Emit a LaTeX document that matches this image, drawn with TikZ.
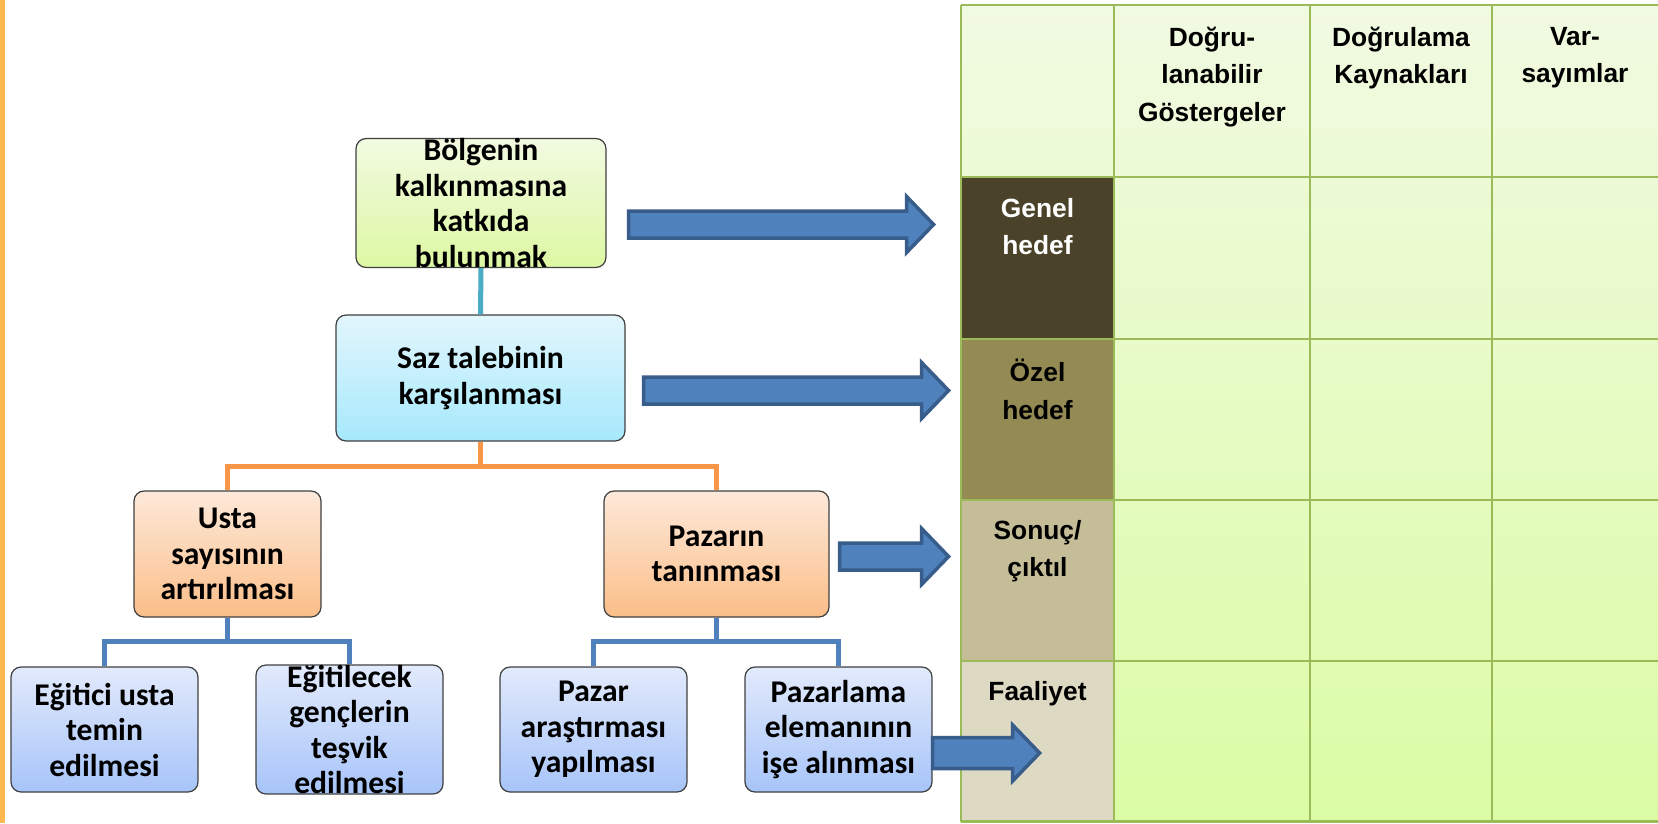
\documentclass[tikz,border=0pt]{standalone}
\usepackage{fontspec}
\setmainfont{Carlito}
\newfontfamily\tabfont{Liberation Sans}
\usetikzlibrary{calc}

\definecolor{stripcol}{RGB}{255,184,79}
\definecolor{gridgreen}{RGB}{155,187,89}
\definecolor{celltop}{RGB}{241,250,226}
\definecolor{cellbot}{RGB}{219,252,165}
\definecolor{genelcol}{RGB}{74,67,42}
\definecolor{ozelcol}{RGB}{148,138,84}
\definecolor{sonuccol}{RGB}{196,189,151}
\definecolor{faalcol}{RGB}{221,217,195}
\definecolor{greentop}{RGB}{242,250,225}
\definecolor{greenbot}{RGB}{221,248,163}
\definecolor{cyantop}{RGB}{226,246,253}
\definecolor{cyanbot}{RGB}{166,233,252}
\definecolor{orangetop}{RGB}{253,233,218}
\definecolor{orangebot}{RGB}{251,190,136}
\definecolor{bluetop}{RGB}{226,234,252}
\definecolor{bluebot}{RGB}{167,196,249}
\definecolor{boxborder}{RGB}{64,64,64}
\definecolor{linkcyan}{RGB}{75,172,198}
\definecolor{linkorange}{RGB}{247,150,70}
\definecolor{linkblue}{RGB}{79,129,189}
\definecolor{arrowfill}{RGB}{79,129,189}
\definecolor{arrowedge}{RGB}{56,93,138}

% block arrow: #1 start coordinate, #2 length in px, #3 shaft half height
\newcommand\blockarrow[3]{%
  \begin{scope}[shift={(#1)}]
    \draw[barrow] (0,-#3) -- ({#2-27},-#3) -- ({#2-27},-28) -- (#2,0)
      -- ({#2-27},28) -- ({#2-27},#3) -- (0,#3) -- cycle;
  \end{scope}}

\begin{document}
\begin{tikzpicture}[x=0.02cm,y=-0.02cm,
  goal/.style={draw=boxborder, line width=0.7pt, rounded corners=0.2cm,
    inner sep=0pt, align=center,
    font=\fontsize{18}{20.2}\selectfont\bfseries},
  greenbox/.style={goal, top color=greentop, bottom color=greenbot},
  cyanbox/.style={goal, top color=cyantop, bottom color=cyanbot},
  orangebox/.style={goal, top color=orangetop, bottom color=orangebot},
  bluebox/.style={goal, top color=bluetop, bottom color=bluebot,
    minimum width=3.74cm, minimum height=2.5cm},
  link/.style={line width=2.85pt},
  barrow/.style={fill=arrowfill, draw=arrowedge, line width=2pt, line join=miter},
  grid/.style={draw=gridgreen, line width=1.5pt},
  tabtext/.style={anchor=north, inner sep=0pt, align=center,
    font=\tabfont\fontsize{15}{21.2}\selectfont\bfseries}
]
\useasboundingbox (0,0) rectangle (1658,823);
\fill[white] (0,0) rectangle (1658,823);

% orange strip along the left edge
\fill[stripcol] (0,0) rectangle (5,823);

% ---- logical framework table ----
\shade[top color=celltop, bottom color=cellbot] (961,5) rectangle (1658,822);
\fill[genelcol] (961,177) rectangle (1114,339);
\fill[ozelcol]  (961,339) rectangle (1114,500);
\fill[sonuccol] (961,500) rectangle (1114,661);
\fill[faalcol]  (961,661) rectangle (1114,822);
\foreach \yy in {5,177,339,500,661,821.5}
  \draw[grid] (961,\yy) -- (1660,\yy);
\foreach \xx in {961,1114,1310,1492}
  \draw[grid] (\xx,5) -- (\xx,821.5);

\node[tabtext] (h1) at (1212,27) {Doğru-\\lanabilir\\Göstergeler};
\node[tabtext] (h2) at (1401,27) {Doğrulama\\Kaynakları};
\node[tabtext] (h3) at (1575,27) {Var-\\sayımlar};
\node[tabtext, text=white] (r1) at (1037.5,198) {Genel\\hedef};
\node[tabtext] (r2) at (1037.5,359) {Özel\\hedef};
\node[tabtext] (r3) at (1037.5,520) {Sonuç/\\çıktıl};
\node[tabtext] (r4) at (1037.5,681) {Faaliyet};

% ---- objective tree ----
\node[greenbox, minimum width=5cm, minimum height=2.52cm] (top) at (481,203)
  {Bölgenin\\kalkınmasına\\katkıda\\bulunmak};
\node[cyanbox, minimum width=5.78cm, minimum height=2.52cm] (purpose) at (480.5,378)
  {Saz talebinin\\karşılanması};
\node[orangebox, minimum width=3.74cm, minimum height=2.52cm] (res1) at (227.5,554)
  {Usta\\sayısının\\artırılması};
\node[orangebox, minimum width=4.5cm, minimum height=2.52cm] (res2) at (716.5,554)
  {Pazarın\\tanınması};
\node[bluebox] (act1) at (104.5,729.5) {Eğitici usta\\temin\\edilmesi};
\node[bluebox] (act2) at (349.5,729.5) {Eğitilecek\\gençlerin\\teşvik\\edilmesi};
\node[bluebox] (act3) at (593.5,729.5) {Pazar\\araştırması\\yapılması};
\node[bluebox] (act4) at (838.5,729.5) {Pazarlama\\elemanının\\işe alınması};

\draw[link, linkcyan] (top.south) -- (purpose.north);
\draw[link, linkorange] (purpose.south) -- ++(0,25) -| (res1.north);
\draw[link, linkorange] (purpose.south) -- ++(0,25) -| (res2.north);
\draw[link, linkblue] (res1.south) -- ++(0,24) -| (act1.north);
\draw[link, linkblue] (res1.south) -- ++(0,24) -| (act2.north);
\draw[link, linkblue] (res2.south) -- ++(0,24) -| (act3.north);
\draw[link, linkblue] (res2.south) -- ++(0,24) -| (act4.north);

% ---- arrows from the tree to the table rows ----
\coordinate (a1) at ($(top.east)+(22,21.5)$);
\coordinate (a2) at ($(purpose.east)+(18,12.5)$);
\coordinate (a3) at ($(res2.east)+(10,2.5)$);
\coordinate (a4) at ($(act4.east)+(0,23.5)$);
\blockarrow{a1}{305}{13.5}
\blockarrow{a2}{305}{13.5}
\blockarrow{a3}{109}{13.5}
\blockarrow{a4}{107}{15.5}
\end{tikzpicture}
\end{document}
